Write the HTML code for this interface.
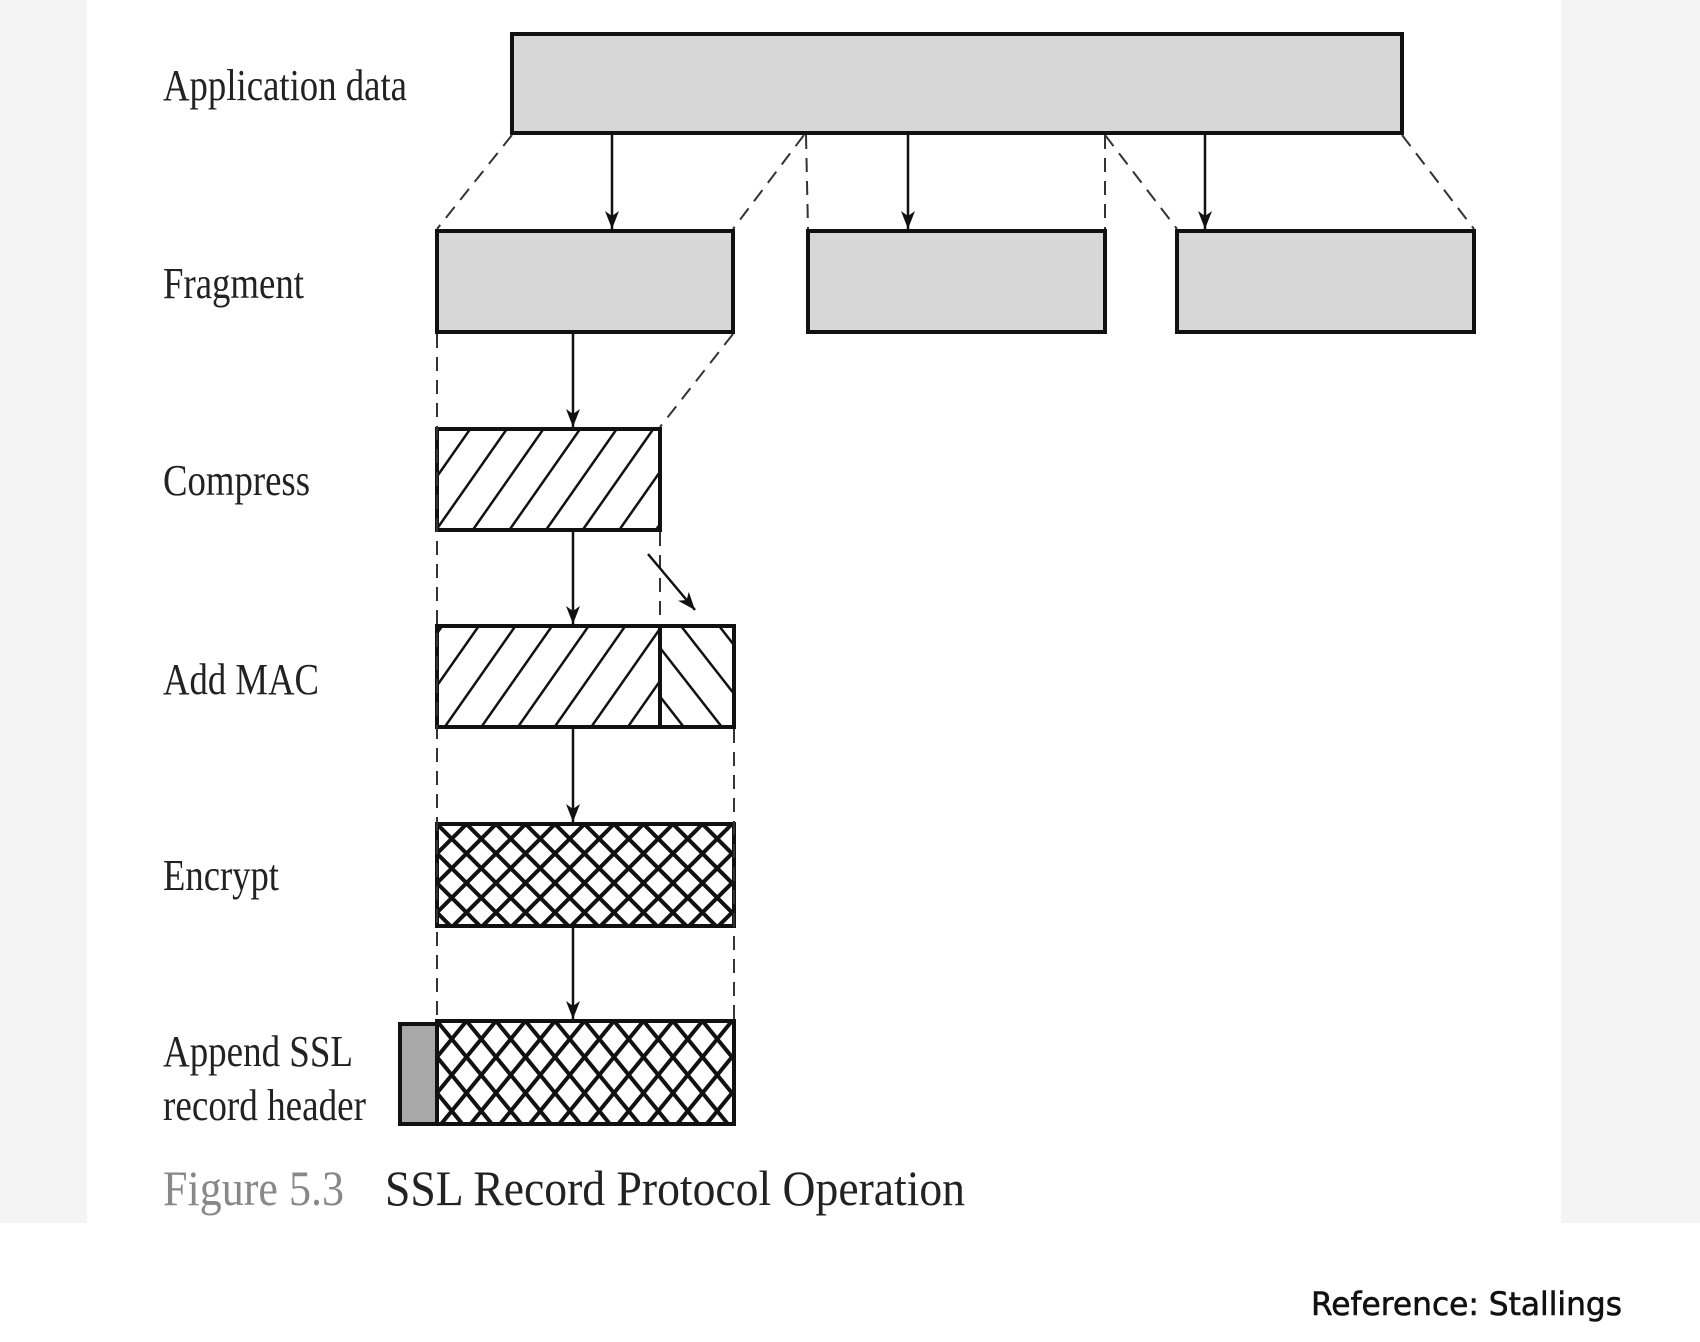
<!DOCTYPE html>
<html><head><meta charset="utf-8"><style>
html,body{margin:0;padding:0;background:#fff}
svg{display:block}
</style></head><body>
<svg width="1700" height="1342" viewBox="0 0 1700 1342" xmlns="http://www.w3.org/2000/svg">
<defs>
<pattern id="fwd" patternUnits="userSpaceOnUse" width="30" height="30" patternTransform="rotate(35)">
<rect width="30" height="30" fill="#fff"/><line x1="0" y1="0" x2="0" y2="30" stroke="#111" stroke-width="5"/>
</pattern>
<pattern id="bwd" patternUnits="userSpaceOnUse" width="30" height="30" patternTransform="rotate(-38)">
<rect width="30" height="30" fill="#fff"/><line x1="0" y1="0" x2="0" y2="30" stroke="#111" stroke-width="5"/>
</pattern>
<pattern id="cross" patternUnits="userSpaceOnUse" width="29.5" height="29.5" x="437" y="824">
<rect width="29.5" height="29.5" fill="#fff"/>
<path d="M0 0 L29.5 29.5 M29.5 0 L0 29.5" stroke="#111" stroke-width="4"/>
</pattern>
<pattern id="cross2" patternUnits="userSpaceOnUse" width="29.5" height="36" x="437" y="1021">
<rect width="29.5" height="36" fill="#fff"/>
<path d="M0 0 L29.5 36 M29.5 0 L0 36" stroke="#111" stroke-width="4"/>
</pattern>
<marker id="ah" markerWidth="18" markerHeight="14" refX="18" refY="7" orient="auto" markerUnits="userSpaceOnUse" viewBox="0 0 18 14">
<path d="M0 0 L18 7 L0 14 L5 7 Z" fill="#111"/>
</marker>
</defs>
<rect x="0" y="0" width="1700" height="1223" fill="#f4f4f4"/>
<rect x="87" y="0" width="1474" height="1223" fill="#fff"/>

<g font-family="Liberation Serif, serif" fill="#222" font-size="44">
<text x="163" y="100" textLength="244" lengthAdjust="spacingAndGlyphs">Application data</text>
<text x="163" y="298" textLength="141" lengthAdjust="spacingAndGlyphs">Fragment</text>
<text x="163" y="495" textLength="147" lengthAdjust="spacingAndGlyphs">Compress</text>
<text x="163" y="694" textLength="156" lengthAdjust="spacingAndGlyphs">Add MAC</text>
<text x="163" y="890" textLength="116" lengthAdjust="spacingAndGlyphs">Encrypt</text>
<text x="163" y="1066" textLength="190" lengthAdjust="spacingAndGlyphs">Append SSL</text>
<text x="163" y="1120" textLength="203" lengthAdjust="spacingAndGlyphs">record header</text>
<text x="163" y="1205" font-size="50" fill="#888" textLength="181" lengthAdjust="spacingAndGlyphs">Figure 5.3</text>
<text x="385" y="1205" font-size="50" fill="#222" textLength="580" lengthAdjust="spacingAndGlyphs">SSL Record Protocol Operation</text>
</g>
<text x="1311" y="1315" font-family="DejaVu Sans, sans-serif" font-size="32" fill="#111" stroke="#111" stroke-width="0.6" textLength="311" lengthAdjust="spacingAndGlyphs">Reference: Stallings</text>

<g stroke="#111" stroke-width="4">
<rect x="512" y="34" width="890" height="99" fill="#d7d7d7"/>
<rect x="437" y="231" width="296" height="101" fill="#d7d7d7"/>
<rect x="808" y="231" width="297" height="101" fill="#d7d7d7"/>
<rect x="1177" y="231" width="297" height="101" fill="#d7d7d7"/>
<rect x="437" y="429" width="223" height="101" fill="url(#fwd)"/>
<rect x="437" y="626" width="223" height="101" fill="url(#fwd)"/>
<rect x="660" y="626" width="74" height="101" fill="url(#bwd)"/>
<rect x="437" y="824" width="297" height="102" fill="url(#cross)"/>
<rect x="437" y="1021" width="297" height="103" fill="url(#cross2)"/>
<rect x="400" y="1024" width="37" height="100" fill="#a8a8a8"/>
</g>

<g stroke="#333" stroke-width="2" stroke-dasharray="14,9" fill="none">
<line x1="512" y1="135" x2="437" y2="229"/>
<line x1="804" y1="135" x2="733" y2="229"/>
<line x1="806" y1="135" x2="808" y2="229"/>
<line x1="1105" y1="135" x2="1105" y2="229"/>
<line x1="1105" y1="135" x2="1177" y2="229"/>
<line x1="1402" y1="135" x2="1474" y2="229"/>
<line x1="437" y1="334" x2="437" y2="1019"/>
<line x1="733" y1="334" x2="660" y2="427"/>
<line x1="660" y1="532" x2="660" y2="624"/>
<line x1="734" y1="729" x2="734" y2="1019"/>
</g>

<g stroke="#111" stroke-width="2.5" fill="none" marker-end="url(#ah)">
<line x1="612" y1="135" x2="612" y2="229"/>
<line x1="908" y1="135" x2="908" y2="229"/>
<line x1="1205" y1="135" x2="1205" y2="229"/>
<line x1="573" y1="334" x2="573" y2="427"/>
<line x1="573" y1="532" x2="573" y2="624"/>
<line x1="573" y1="729" x2="573" y2="822"/>
<line x1="573" y1="928" x2="573" y2="1019"/>
<line x1="648" y1="554" x2="695" y2="610"/>
</g>
</svg>
</body></html>
